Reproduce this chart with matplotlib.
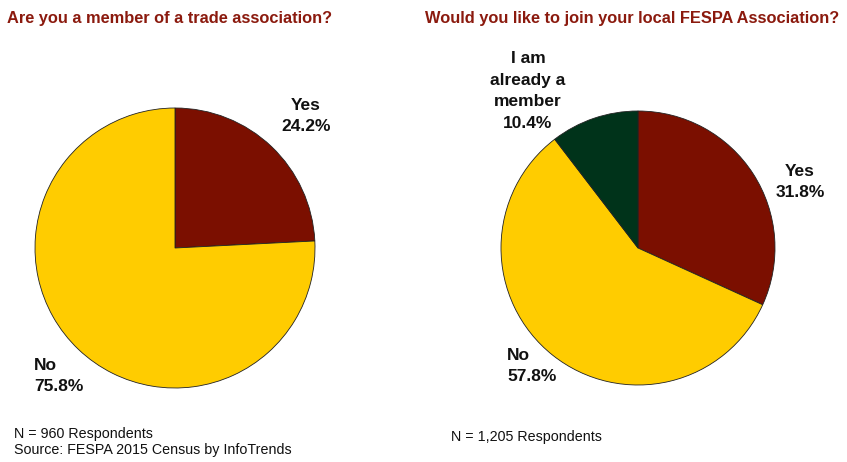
import matplotlib.pyplot as plt

plt.rcParams['font.family'] = ['Liberation Sans', 'DejaVu Sans']

# left question: trade association membership
left_labels = ["Yes", "No"]
left_values = [24.2, 75.8]

# right question: joining the local FESPA association
right_labels = ["Yes", "No", "I am\nalready a\nmember"]
right_values = [31.8, 57.8, 10.4]

title_left = "Are you a member of a trade association?"
title_right = "Would you like to join your local FESPA Association?"
note_left = "N = 960 Respondents\nSource: FESPA 2015 Census by InfoTrends"
note_right = "N = 1,205 Respondents"

red = "#7b0f00"
yellow = "#ffcc00"
green = "#00331a"

fig = plt.figure(figsize=(8.47, 4.62), dpi=100)
ax = fig.add_axes([0, 0, 1, 1])

wedge_style = dict(edgecolor="#222222", linewidth=0.6)

ax.pie(left_values, colors=[red, yellow], startangle=90, counterclock=False,
       center=(175, 214), radius=140, wedgeprops=wedge_style, frame=True)
ax.pie(right_values, colors=[red, yellow, green], startangle=90, counterclock=False,
       center=(638, 214), radius=137, wedgeprops=wedge_style, frame=True)
ax.set_xlim(0, 847)
ax.set_ylim(0, 462)
ax.set_aspect("equal")
ax.axis("off")

lbl = dict(fontsize=12.5, fontweight="bold", color="#111111", linespacing=1.55)

def pct(label, value):
    return f"{label}\n{value:.1f}%"

ax.text(306, 346, pct(left_labels[0], left_values[0]), ha="center", va="center", **lbl)
ax.text(34, 86, pct(left_labels[1], left_values[1]), ha="left", va="center", **lbl)
ax.text(800, 280, pct(right_labels[0], right_values[0]), ha="center", va="center", **lbl)
ax.text(507, 96, pct(right_labels[1], right_values[1]), ha="left", va="center", **lbl)
ax.text(528, 371, pct(right_labels[2], right_values[2]), ha="center", va="center", **lbl)

ttl = dict(fontsize=11.8, fontweight="bold", color="#8b1a0e", va="center", ha="left")
ax.text(7, 444, title_left, **ttl)
ax.text(425, 444, title_right, **ttl)

note = dict(fontsize=10.3, color="#111111", ha="left", va="center", linespacing=1.2)
ax.text(14, 20, note_left, **note)
ax.text(451, 25, note_right, **note)

fig.savefig("out.png", dpi=100)
